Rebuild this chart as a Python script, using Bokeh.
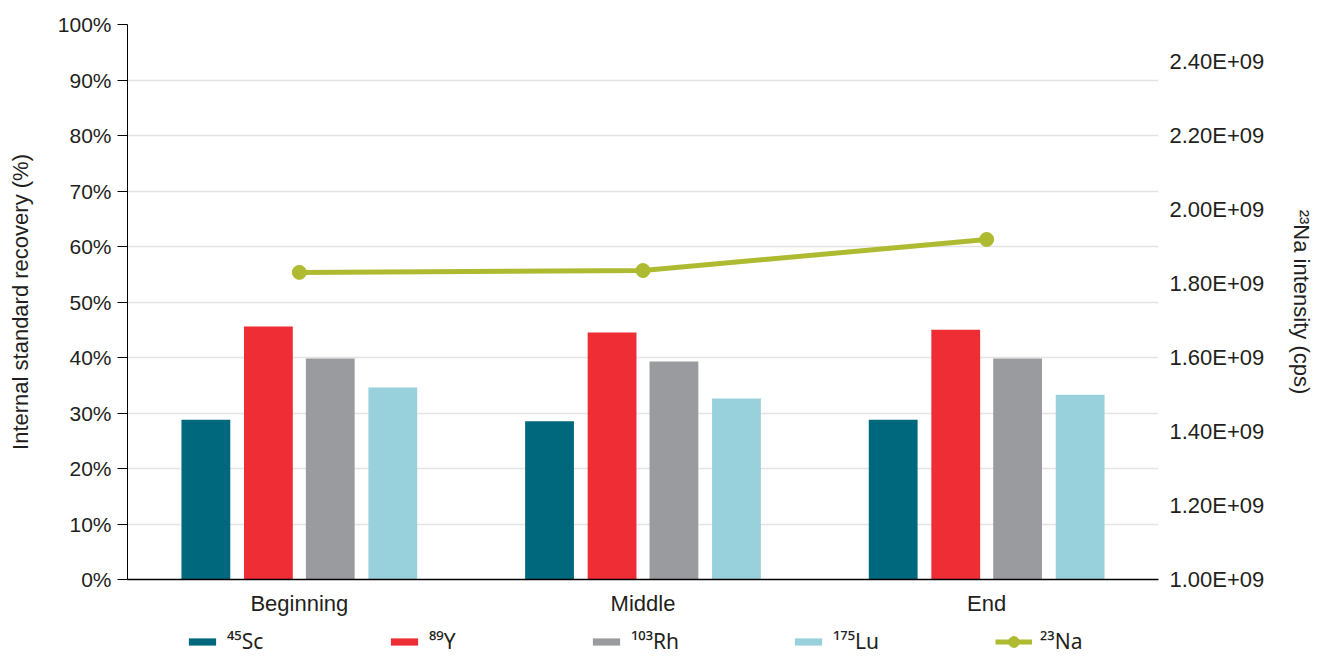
from bokeh.plotting import figure
from bokeh.layouts import column
from bokeh.models import (FactorRange, Range1d, LinearAxis, FixedTicker, PrintfTickFormatter,
                          CustomJSTickFormatter, Legend, LegendItem, ColumnDataSource)
from bokeh.transform import dodge
from bokeh.embed import file_html
from bokeh.resources import INLINE

# ---- data ----
categories = ["Beginning", "Middle", "End"]
sc_45 = [28.8, 28.5, 28.8]
y_89 = [45.6, 44.5, 45.0]
rh_103 = [39.8, 39.3, 39.8]
lu_175 = [34.6, 32.6, 33.3]
na_23 = [1.830e9, 1.835e9, 1.919e9]
series_labels = ["\u2074\u2075Sc", "\u2078\u2079Y", "\u00b9\u2070\u00b3Rh", "\u00b9\u2077\u2075Lu", "\u00b2\u00b3Na"]
left_ticks = [0, 10, 20, 30, 40, 50, 60, 70, 80, 90, 100]
right_ticks = [1.0e9, 1.2e9, 1.4e9, 1.6e9, 1.8e9, 2.0e9, 2.2e9, 2.4e9]

colors = ["#00687c", "#ee2d34", "#9a9b9f", "#98d1dc"]
na_color = "#aebb31"
FONT = "Liberation Sans"
LFONT = "Noto Sans"
TXT = "#231f20"
W = 1317

src = ColumnDataSource(dict(cat=categories, sc=sc_45, y=y_89, rh=rh_103, lu=lu_175, na=na_23))
fields = ["sc", "y", "rh", "lu"]

p = figure(x_range=FactorRange(*categories, range_padding=0), y_range=Range1d(0, 100),
           width=W, height=618, output_backend="svg", toolbar_location=None,
           min_border_left=127, min_border_right=157, min_border_top=24, min_border_bottom=39)
p.extra_y_ranges = {"na": Range1d(1.0e9, 2.5e9)}
p.outline_line_color = None
p.background_fill_color = "white"

offsets = [-0.272, -0.09, 0.09, 0.272]
for f, off, c in zip(fields, offsets, colors):
    p.vbar(x=dodge("cat", off, range=p.x_range), top=f, width=0.142, source=src,
           fill_color=c, line_color=None)

p.line(x="cat", y="na", source=src, y_range_name="na", line_color=na_color, line_width=5)
p.scatter(x="cat", y="na", source=src, y_range_name="na", size=14, fill_color=na_color,
          line_color=na_color)

# left axis
ya = p.yaxis[0]
ya.ticker = FixedTicker(ticks=left_ticks)
ya.formatter = PrintfTickFormatter(format="%d%%")
ya.axis_label = "Internal standard recovery (%)"
ya.axis_label_text_font = FONT
ya.axis_label_text_font_size = "22px"
ya.axis_label_text_font_style = "normal"
ya.axis_label_text_color = TXT
ya.axis_label_standoff = 22
ya.major_label_text_font = FONT
ya.major_label_text_font_size = "21px"
ya.major_label_text_color = TXT
ya.major_tick_out = 10
ya.major_tick_in = 0
ya.minor_tick_line_color = None
ya.axis_line_color = "black"
ya.major_tick_line_color = "black"
ya.major_label_standoff = 6

# right axis
ra = LinearAxis(y_range_name="na", ticker=FixedTicker(ticks=right_ticks))
ra.formatter = CustomJSTickFormatter(code="""
const s = tick.toExponential(2).toUpperCase();
const parts = s.split('E');
let e = parts[1];
const sign = e[0];
let d = e.slice(1);
if (d.length < 2) d = '0' + d;
return parts[0] + 'E' + sign + d;
""")
ra.axis_label = "\u00b2\u00b3Na intensity (cps)"
ra.axis_label_text_font = FONT
ra.axis_label_text_font_size = "22px"
ra.axis_label_text_font_style = "normal"
ra.axis_label_text_color = TXT
ra.axis_label_standoff = 22
ra.major_label_text_font = FONT
ra.major_label_text_font_size = "22px"
ra.major_label_text_color = TXT
ra.axis_line_color = None
ra.major_tick_line_color = None
ra.minor_tick_line_color = None
ra.major_label_standoff = 5
p.add_layout(ra, "right")

# x axis
xa = p.xaxis[0]
xa.axis_line_color = "black"
xa.axis_line_width = 1.5
xa.major_tick_line_color = None
xa.minor_tick_line_color = None
xa.major_label_text_font = FONT
xa.major_label_text_font_size = "22px"
xa.major_label_text_color = TXT
xa.major_label_standoff = 5

p.xgrid.grid_line_color = None
p.ygrid.grid_line_color = "#e4e4e4"
p.ygrid.grid_line_width = 1.5
p.ygrid.ticker = FixedTicker(ticks=left_ticks)

# ---- legend strip (its own renderers lie outside its visible ranges) ----
lg = figure(width=W, height=37, x_range=FactorRange(*categories), y_range=Range1d(200, 201),
            output_backend="svg", toolbar_location=None,
            x_axis_location=None, y_axis_location=None,
            min_border_left=0, min_border_right=0, min_border_top=0, min_border_bottom=0)
lg.extra_y_ranges = {"na": Range1d(0, 1)}
lg.outline_line_color = None
lg.xgrid.grid_line_color = None
lg.ygrid.grid_line_color = None

bar_items = []
for lab, f, c in zip(series_labels[:4], fields, colors):
    r = lg.vbar(x="cat", top=f, width=0.1, source=src, fill_color=c, line_color=None)
    bar_items.append(LegendItem(label=lab, renderers=[r]))
lr = lg.line(x="cat", y="na", source=src, y_range_name="na", line_color=na_color, line_width=5)
sr = lg.scatter(x="cat", y="na", source=src, y_range_name="na", fill_color=na_color,
                line_color=na_color)

common = dict(orientation="horizontal", label_standoff=8, padding=0, margin=0,
              border_line_color=None, background_fill_alpha=0, label_text_font=LFONT,
              label_text_font_size="21px", label_text_color=TXT, label_height=27)
leg1 = Legend(items=bar_items, location=(58, 0), glyph_width=34, glyph_height=9,
              label_width=66, spacing=94, **common)
leg2 = Legend(items=[LegendItem(label=series_labels[4], renderers=[lr, sr])], location=(868, 0),
              glyph_width=37, glyph_height=27, label_width=60, spacing=0, **common)
lg.add_layout(leg1, "center")
lg.add_layout(leg2, "center")

layout = column(p, lg, spacing=0)
open("out.html", "w").write(file_html(layout, INLINE))
